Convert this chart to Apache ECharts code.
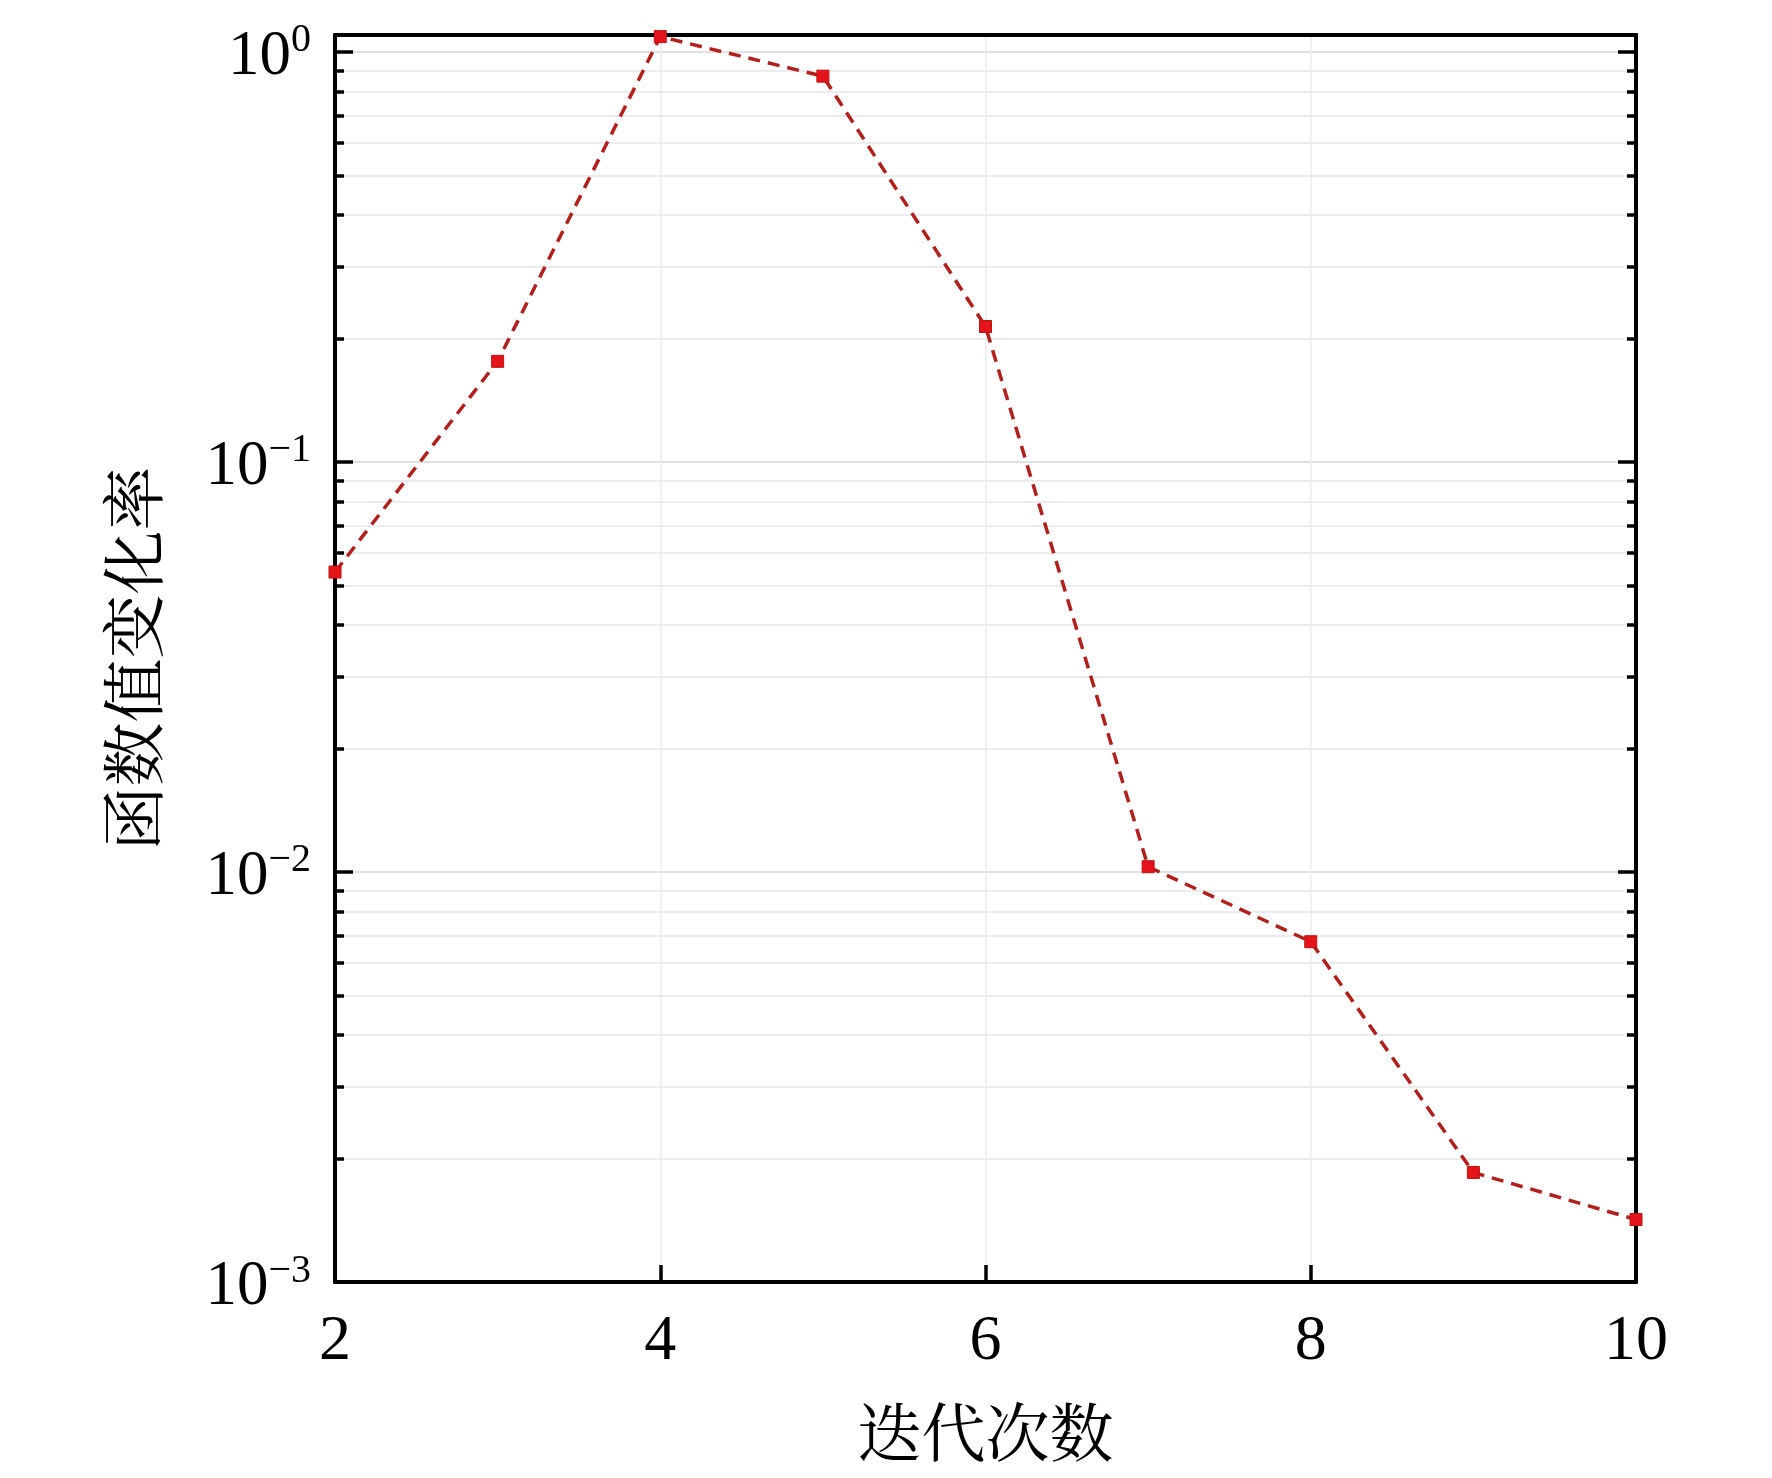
<!DOCTYPE html>
<html>
<head>
<meta charset="utf-8">
<script src="https://cdn.jsdelivr.net/npm/echarts@6/dist/echarts.min.js"></script>
<style>
html,body{margin:0;padding:0;background:#fff;}
#chart{width:1772px;height:1478px;}
</style>
</head>
<body>
<div id="chart"></div>
<script>
// ---- data ----
const iterations = [2, 3, 4, 5, 6, 7, 8, 9, 10];
const changeRate = [0.0539, 0.176, 1.09, 0.873, 0.214, 0.0103, 0.00676, 0.00185, 0.00142];
const xTicks = [2, 4, 6, 8, 10];
const yMajorTicks = [0.001, 0.01, 0.1, 1];
const xAxisTitle = '迭代次数';
const yAxisTitle = '函数值变化率';

// minor log ticks 2..9 per decade
const yMinorTicks = [];
yMajorTicks.slice(0, -1).forEach(function (d) {
  for (let k = 2; k <= 9; k++) yMinorTicks.push(+(k * d).toPrecision(3));
});

const SERIF = '"Liberation Serif", "Times New Roman", "Noto Serif CJK SC", "Noto Sans CJK SC", serif';
const Y_MIN = 0.001, Y_MAX = 1.1;

function supLabel(v) {
  const e = Math.round(Math.log10(v));
  const es = e < 0 ? '\u2212' + (-e) : String(e);
  return '{b|10}{s|' + es + '}';
}

const chart = echarts.init(document.getElementById('chart'), null, {renderer: 'canvas'});

function yAx(position, major, showLabel, showSplit) {
  return {
    type: 'log',
    logBase: 10,
    min: Y_MIN,
    max: Y_MAX,
    position: position,
    gridIndex: 0,
    axisLine: {show: true, onZero: false, lineStyle: {color: '#000', width: 4}},
    axisTick: {
      show: true, inside: true,
      length: major ? 18 : 9,
      customValues: major ? yMajorTicks : yMinorTicks,
      lineStyle: {color: '#000', width: 3.5}
    },
    minorTick: {show: false},
    axisLabel: showLabel ? {
      show: true,
      customValues: yMajorTicks,
      margin: 24,
      formatter: supLabel,
      rich: {
        b: {fontSize: 63, fontFamily: SERIF, color: '#000', lineHeight: 62, padding: [10, 0, 0, 0]},
        s: {fontSize: 40, fontFamily: SERIF, color: '#000', lineHeight: 40, verticalAlign: 'top'}
      }
    } : {show: false},
    splitLine: {show: showSplit, lineStyle: {color: major ? '#d6d6d6' : '#e6e6e6', width: 1.5}},
    name: showLabel ? yAxisTitle : '',
    nameLocation: 'middle',
    nameGap: 163,
    nameTextStyle: {fontSize: 64, fontFamily: SERIF, color: '#000'}
  };
}

const option = {
  backgroundColor: '#fff',
  animation: false,
  grid: {left: 335, right: 136, top: 35, bottom: 196, containLabel: false},
  xAxis: [
    {
      type: 'value', min: 2, max: 10, interval: 2, position: 'bottom',
      axisLine: {show: true, onZero: false, lineStyle: {color: '#000', width: 4}},
      axisTick: {show: true, inside: true, length: 17, lineStyle: {color: '#000', width: 3.5}},
      axisLabel: {
        margin: 28, fontSize: 64, fontFamily: SERIF, color: '#000',
        customValues: xTicks
      },
      splitLine: {show: true, lineStyle: {color: '#ececec', width: 1.5}},
      name: xAxisTitle, nameLocation: 'middle', nameGap: 125,
      nameTextStyle: {fontSize: 64, fontFamily: SERIF, color: '#000'}
    },
    {
      type: 'value', min: 2, max: 10, interval: 2, position: 'top',
      axisLine: {show: true, onZero: false, lineStyle: {color: '#000', width: 4}},
      axisTick: {show: false}, axisLabel: {show: false}, splitLine: {show: false}
    }
  ],
  yAxis: [
    yAx('left', true, true, true),
    yAx('left', false, false, true),
    yAx('right', true, false, false),
    yAx('right', false, false, false)
  ],
  series: [{
    type: 'line',
    xAxisIndex: 0,
    yAxisIndex: 0,
    data: iterations.map(function (x, i) { return [x, changeRate[i]]; }),
    symbol: 'rect',
    symbolSize: 12,
    showSymbol: true,
    clip: false,
    z: 5,
    lineStyle: {color: '#b3201c', width: 3.5, type: [12, 8]},
    itemStyle: {color: '#e3141a', borderColor: '#c01010', borderWidth: 1}
  }]
};
chart.setOption(option);
</script>
</body>
</html>
